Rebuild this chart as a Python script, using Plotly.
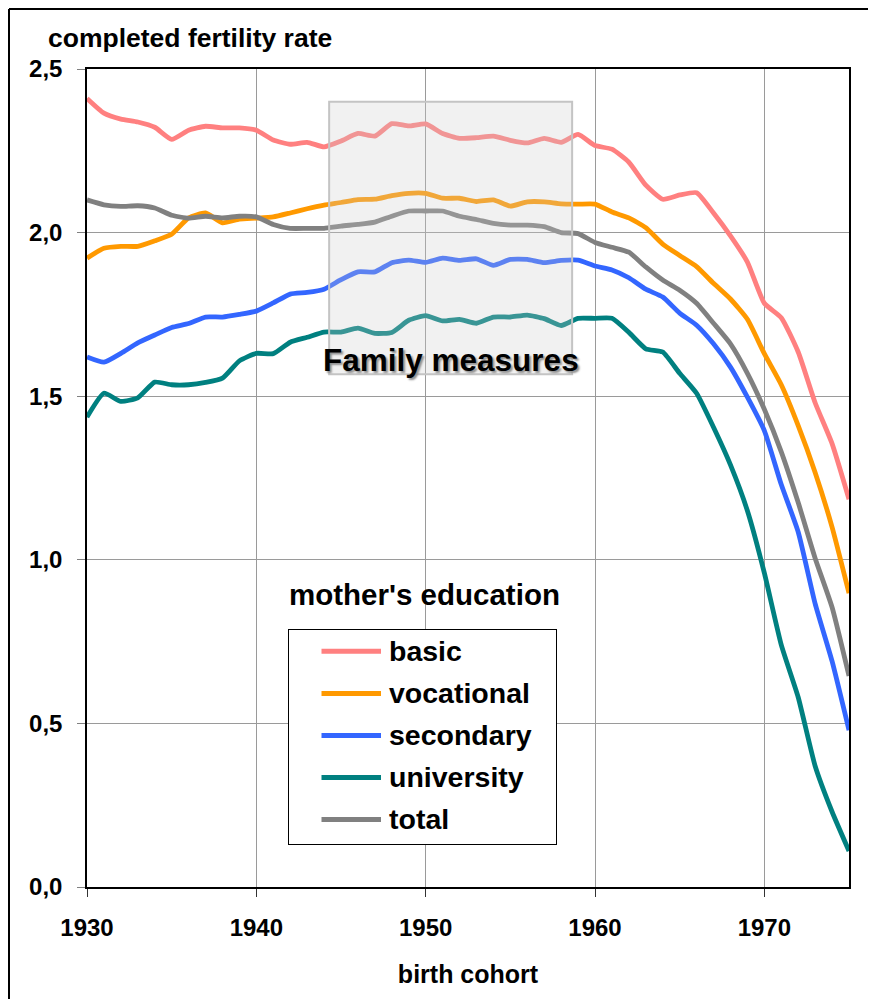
import plotly.graph_objects as go

years = list(range(1930, 1976))

basic = [2.41, 2.365, 2.347, 2.338, 2.322, 2.285, 2.313, 2.325, 2.32, 2.32,
         2.313, 2.283, 2.27, 2.276, 2.262, 2.28, 2.303, 2.295, 2.333, 2.326,
         2.332, 2.303, 2.288, 2.29, 2.295, 2.282, 2.274, 2.288, 2.276, 2.30,
         2.266, 2.255, 2.215, 2.145, 2.102, 2.115, 2.122, 2.06, 1.99, 1.91,
         1.784, 1.74, 1.635, 1.48, 1.355, 1.185]
vocational = [1.922, 1.952, 1.958, 1.958, 1.975, 1.995, 2.045, 2.06, 2.03, 2.041,
              2.044, 2.048, 2.06, 2.073, 2.084, 2.092, 2.101, 2.102, 2.113, 2.12,
              2.12, 2.105, 2.105, 2.095, 2.10, 2.081, 2.094, 2.094, 2.088, 2.087,
              2.087, 2.063, 2.045, 2.015, 1.965, 1.93, 1.896, 1.845, 1.797, 1.735,
              1.63, 1.535, 1.41, 1.267, 1.10, 0.898]
secondary = [1.62, 1.604, 1.631, 1.663, 1.687, 1.71, 1.722, 1.742, 1.742, 1.75,
             1.76, 1.785, 1.812, 1.817, 1.827, 1.856, 1.88, 1.88, 1.908, 1.916,
             1.909, 1.922, 1.915, 1.92, 1.90, 1.918, 1.918, 1.908, 1.915, 1.916,
             1.898, 1.886, 1.862, 1.827, 1.803, 1.754, 1.717, 1.66, 1.589, 1.497,
             1.395, 1.23, 1.085, 0.866, 0.69, 0.479]
university = [1.436, 1.509, 1.484, 1.495, 1.543, 1.535, 1.535, 1.542, 1.555, 1.608,
              1.631, 1.63, 1.665, 1.68, 1.696, 1.696, 1.708, 1.692, 1.695, 1.732,
              1.746, 1.73, 1.735, 1.723, 1.742, 1.742, 1.748, 1.737, 1.716, 1.738,
              1.738, 1.738, 1.695, 1.645, 1.635, 1.57, 1.509, 1.405, 1.29, 1.15,
              0.96, 0.74, 0.58, 0.37, 0.23, 0.11]
total = [2.10, 2.085, 2.08, 2.082, 2.075, 2.053, 2.044, 2.05, 2.045, 2.05,
         2.048, 2.025, 2.013, 2.013, 2.013, 2.02, 2.025, 2.032, 2.05, 2.066,
         2.066, 2.066, 2.05, 2.04, 2.028, 2.023, 2.023, 2.018, 2.00, 1.997,
         1.97, 1.955, 1.94, 1.895, 1.855, 1.824, 1.784, 1.723, 1.66, 1.57,
         1.46, 1.33, 1.175, 1.005, 0.855, 0.645]

series_names = ["basic", "vocational", "secondary", "university", "total"]
series_values = [basic, vocational, secondary, university, total]
series_colors = ["#FF8080", "#FF9900", "#3366FF", "#008080", "#808080"]

y_tickvals = [0, 0.5, 1.0, 1.5, 2.0, 2.5]
y_ticktext = ["0,0", "0,5", "1,0", "1,5", "2,0", "2,5"]
x_tickvals = [1930, 1940, 1950, 1960, 1970]

y_title = "completed fertility rate"
x_title = "birth cohort"
legend_title = "mother's education"
box_label = "Family measures"
box_x = [1944.3, 1958.65]
box_y = [1.567, 2.4]

FONT = "Liberation Sans, Arial, sans-serif"

fig = go.Figure()
for name, vals, col in zip(series_names, series_values, series_colors):
    fig.add_trace(go.Scatter(x=years, y=vals, mode="lines", name=name,
                             line=dict(color=col, width=4.8, shape="spline", smoothing=0.5),
                             showlegend=False, hoverinfo="skip"))

# helpers converting screen pixels (page has 8px body offset) to paper coords
def px_x(px):
    return (px - 87) / 762.0

def px_y(py):
    return (886.5 - py) / 817.5

shapes = []
# shaded box over the lines
shapes.append(dict(type="rect", xref="x", yref="y", x0=box_x[0], x1=box_x[1],
                   y0=box_y[0], y1=box_y[1], layer="above",
                   fillcolor="rgba(205,205,205,0.28)",
                   line=dict(color="#C4C4C4", width=2)))
# outer frame as separate lines
for (ax0, ay0, ax1, ay1) in [(9, 9, 900, 9), (9, 9, 9, 1020)]:
    shapes.append(dict(type="line", xref="paper", yref="paper",
                       x0=px_x(ax0), x1=px_x(ax1), y0=px_y(ay0), y1=px_y(ay1),
                       layer="above", line=dict(color="black", width=2)))

annotations = []
# legend frame: white box
annotations.append(dict(xref="paper", yref="paper", x=px_x(288), y=px_y(629),
                        xanchor="left", yanchor="top", showarrow=False,
                        text="", width=267, height=214,
                        bgcolor="#FFFFFF", bordercolor="black", borderwidth=1,
                        borderpad=0))

item_y = [651, 693, 735, 777, 819]
for name, col, py in zip(series_names, series_colors, item_y):
    # legend line sample (arrow without head)
    annotations.append(dict(xref="paper", yref="paper", x=px_x(381), y=px_y(py),
                            text="", showarrow=True, arrowhead=0, arrowwidth=5,
                            arrowcolor=col, ax=-61, ay=0, standoff=0,
                            startstandoff=0))
    annotations.append(dict(xref="paper", yref="paper", x=px_x(387), y=px_y(py),
                            xanchor="left", yanchor="middle", showarrow=False,
                            text=name,
                            font=dict(family=FONT, size=28.5, color="black", weight="bold")))

annotations.append(dict(xref="paper", yref="paper", x=px_x(424), y=px_y(594),
                        xanchor="center", yanchor="middle", showarrow=False,
                        text=legend_title,
                        font=dict(family=FONT, size=29.5, color="black", weight="bold")))
annotations.append(dict(xref="paper", yref="paper", x=px_x(46), y=px_y(38),
                        xanchor="left", yanchor="middle", showarrow=False,
                        text=y_title,
                        font=dict(family=FONT, size=26.5, color="black", weight="bold")))
annotations.append(dict(xref="x", yref="y", x=(box_x[0] + box_x[1]) / 2, y=1.61,
                        xanchor="center", yanchor="middle", showarrow=False,
                        text=box_label,
                        font=dict(family=FONT, size=31.5, color="black", weight="bold",
                                  shadow="2px 2px 2px #909090")))

fig.update_layout(
    width=868, height=991,
    margin=dict(l=79, r=27, t=61, b=112),
    paper_bgcolor="white", plot_bgcolor="white",
    shapes=shapes, annotations=annotations,
    showlegend=False, hovermode=False,
    xaxis=dict(range=[1930, 1975], tickvals=x_tickvals,
               showgrid=True, gridcolor="#9A9A9A", gridwidth=1,
               showline=True, linecolor="black", linewidth=1.5, mirror=True,
               ticks="outside", ticklen=8, tickcolor="#333333", tickwidth=1,
               ticklabelstandoff=10, zeroline=False,
               tickfont=dict(family=FONT, size=24, color="black", weight="bold"),
               title=dict(text=x_title, standoff=26,
                          font=dict(family=FONT, size=25, color="black", weight="bold"))),
    yaxis=dict(range=[0, 2.5], tickvals=y_tickvals, ticktext=y_ticktext,
               showgrid=True, gridcolor="#9A9A9A", gridwidth=1,
               showline=True, linecolor="black", linewidth=1.5, mirror=True,
               ticks="outside", ticklen=8, tickcolor="#808080", tickwidth=1,
               ticklabelstandoff=10, zeroline=False,
               tickfont=dict(family=FONT, size=24, color="black", weight="bold")),
)

fig.write_html("out.html")
